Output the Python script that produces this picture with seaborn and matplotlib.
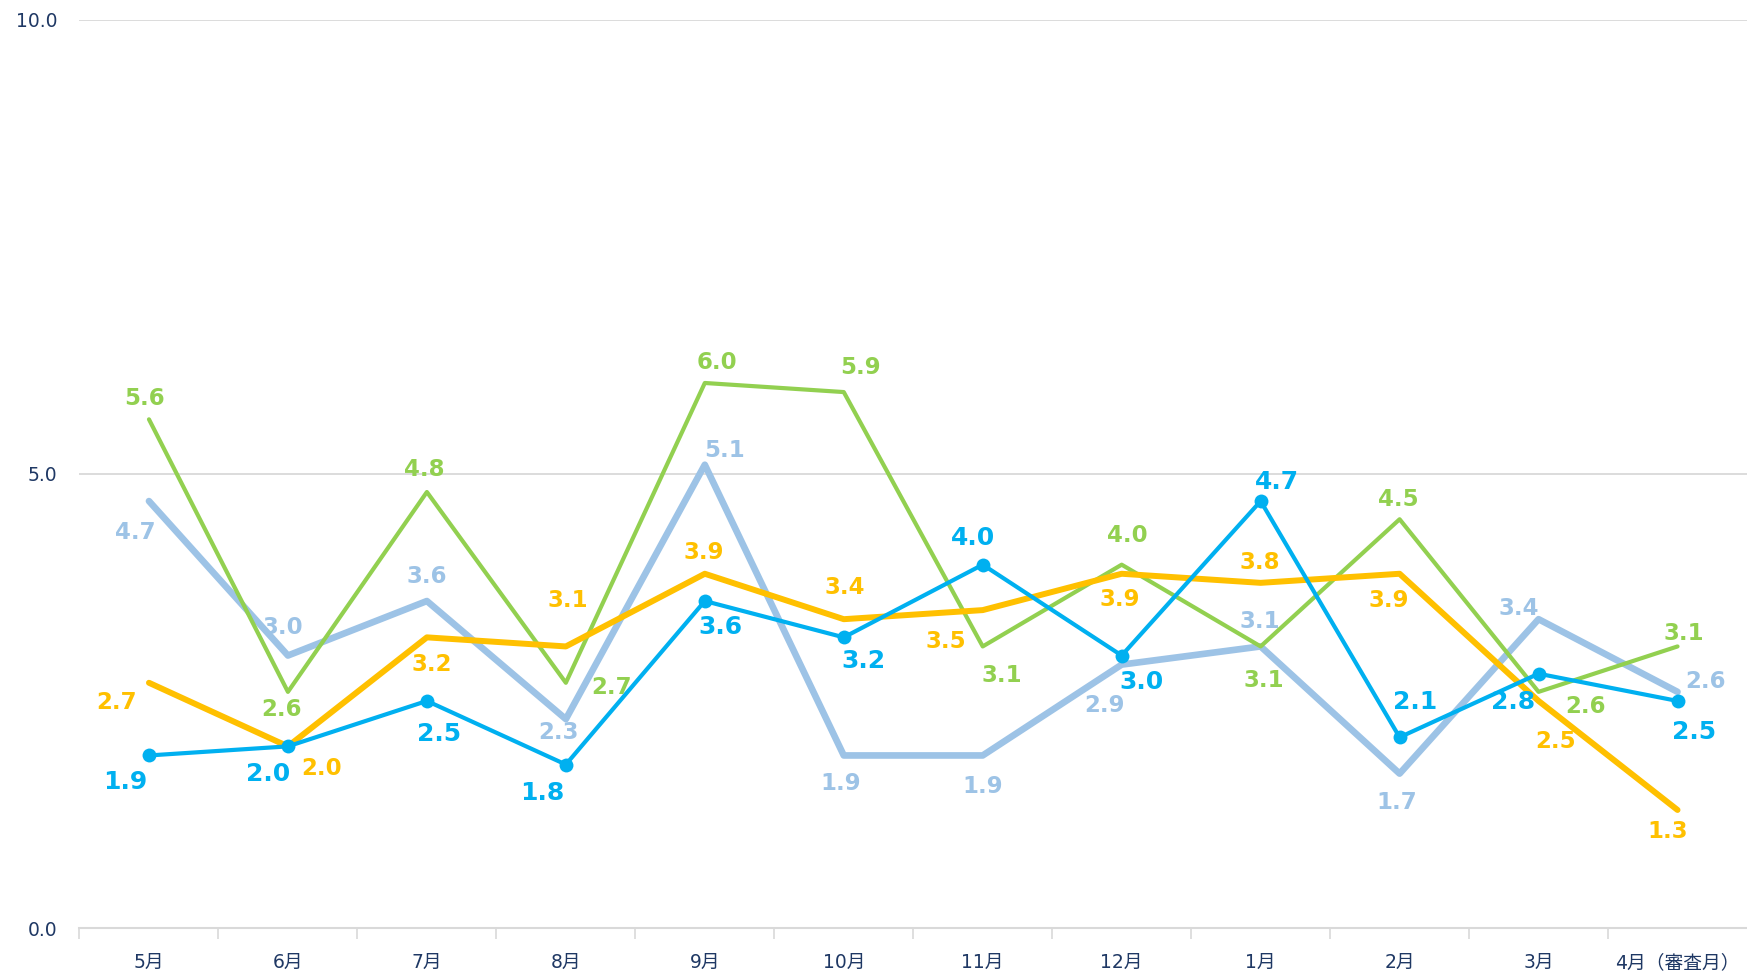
import matplotlib
matplotlib.use("Agg")
import matplotlib.pyplot as plt
import numpy as np
import pandas as pd
import seaborn as sns

MONTHS = ["5月", "6月", "7月", "8月", "9月", "10月", "11月", "12月", "1月", "2月", "3月", "4月（審査月）"]

light_blue_vals = [4.7, 3.0, 3.6, 2.3, 5.1, 1.9, 1.9, 2.9, 3.1, 1.7, 3.4, 2.6]
green_vals = [5.6, 2.6, 4.8, 2.7, 6.0, 5.9, 3.1, 4.0, 3.1, 4.5, 2.6, 3.1]
yellow_vals = [2.7, 2.0, 3.2, 3.1, 3.9, 3.4, 3.5, 3.9, 3.8, 3.9, 2.5, 1.3]
cyan_vals = [1.9, 2.0, 2.5, 1.8, 3.6, 3.2, 4.0, 3.0, 4.7, 2.1, 2.8, 2.5]

# label offsets (dx, dy) in reference pixels, dy positive = up
light_blue_off = [(-12, -28), (-5, 25), (0, 22), (-7, -12), (18, 13), (-3, -25),
                  (0, -28), (-15, -37), (-1, 22), (-3, -26), (-18, 10), (25, 9)]
green_off = [(-4, 19), (-6, -16), (-2, 20), (41, -4), (11, 18), (15, 22),
             (17, -26), (5, 26), (3, -31), (-1, 18), (42, -13), (6, 12)]
yellow_off = [(-29, -18), (30, -20), (4, -24), (2, 41), (-1, 19), (1, 28),
              (-33, -28), (-2, -23), (-1, 18), (-10, -24), (15, -36), (-9, -19)]
cyan_off = [(-21, -24), (-18, -25), (11, -30), (-21, -26), (14, -23), (18, -21),
            (-9, 24), (18, -24), (15, 17), (14, 32), (-23, -25), (15, -28)]

# name, values, label offsets, colour, line width, marker, label size
SERIES = [
    ("light_blue", light_blue_vals, light_blue_off, "#9dc3e6", 4.8, None, 16.5),
    ("green", green_vals, green_off, "#92d050", 3.0, None, 16.5),
    ("yellow", yellow_vals, yellow_off, "#ffc000", 4.3, None, 16.5),
    ("cyan", cyan_vals, cyan_off, "#00b0f0", 3.0, "o", 18),
]

TEXT_COLOR = "#1f3864"
GRID_COLOR = "#d9d9d9"

sns.set_theme(style="white")
plt.rcParams["font.family"] = ["DejaVu Sans", "Noto Sans CJK JP"]

fig = plt.figure(figsize=(17.47, 9.8), dpi=100)
ax = fig.add_axes([0.0455, 0.053, 0.9545, 0.927])

for name, vals, offs, color, lw, marker, fs in SERIES:
    df = pd.DataFrame({"month": MONTHS, "value": vals})
    sns.lineplot(data=df, x="month", y="value", ax=ax, color=color, linewidth=lw,
                 marker=marker, markersize=10, markeredgewidth=0, sort=False)

# data labels on top of all lines
for name, vals, offs, color, lw, marker, fs in SERIES:
    for i, (v, (dx, dy)) in enumerate(zip(vals, offs)):
        ax.annotate(f"{v:.1f}", xy=(i, v), xytext=(dx * 0.802, dy * 0.802),
                    textcoords="offset points", ha="center", va="center",
                    fontsize=fs, fontweight="bold", color=color)

ax.set_xlim(-0.5, 11.5)
ax.set_ylim(0, 10)
ax.set_yticks([0, 5, 10])
ax.set_yticklabels(["0.0", "5.0", "10.0"])
ax.set_xticks(range(len(MONTHS)))
ax.set_xticklabels(MONTHS)
ax.set_xticks(np.arange(-0.5, 11.5, 1), minor=True)
ax.set_xlabel("")
ax.set_ylabel("")

ax.tick_params(axis="x", which="major", length=0, pad=18, labelsize=13.5, labelcolor=TEXT_COLOR)
ax.tick_params(axis="x", which="minor", length=8, width=1.2, color=GRID_COLOR, bottom=True)
ax.tick_params(axis="y", length=0, pad=16, labelsize=13.5, labelcolor=TEXT_COLOR)

ax.grid(False)
for y in [5, 10]:
    ax.axhline(y, color=GRID_COLOR, linewidth=1.3, zorder=0)

for side in ["top", "right", "left"]:
    ax.spines[side].set_visible(False)
ax.spines["bottom"].set_color(GRID_COLOR)
ax.spines["bottom"].set_linewidth(1.5)

fig.savefig("out.png", dpi=100)
